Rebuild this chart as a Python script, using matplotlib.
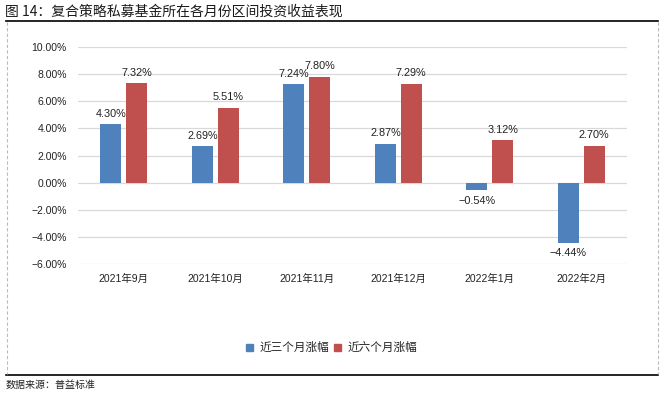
import numpy as np
import matplotlib
matplotlib.use("Agg")
import matplotlib.pyplot as plt
from matplotlib.lines import Line2D
from matplotlib.patches import Rectangle

plt.rcParams['font.family'] = ['Liberation Sans', 'Noto Sans CJK SC', 'DejaVu Sans']

# data
months = ["2021年9月", "2021年10月", "2021年11月", "2021年12月", "2022年1月", "2022年2月"]
ret_3m = [4.30, 2.69, 7.24, 2.87, -0.54, -4.44]
ret_6m = [7.32, 5.51, 7.80, 7.29, 3.12, 2.70]
series_names = ["近三个月涨幅", "近六个月涨幅"]
yticks = [-6, -4, -2, 0, 2, 4, 6, 8, 10]

title = "图 14：复合策略私募基金所在各月份区间投资收益表现"
source = "数据来源：普益标准"

blue = "#4F81BD"
red = "#C0504D"

W, H = 666, 393
fig = plt.figure(figsize=(W / 100, H / 100), dpi=100)

def px(x, y):
    return x / W, 1 - y / H

# axes placed in pixel coords
l, t, r, b = 78, 47, 627, 264
ax = fig.add_axes([l / W, 1 - b / H, (r - l) / W, (b - t) / H])

x = np.arange(len(months))
bw = 0.23
gap = 0.05
off = (bw + gap) / 2
bars1 = ax.bar(x - off, ret_3m, width=bw, color=blue, zorder=3)
bars2 = ax.bar(x + off, ret_6m, width=bw, color=red, zorder=3)

for bars, vals in [(bars1, ret_3m), (bars2, ret_6m)]:
    for rect, v in zip(bars, vals):
        cx = rect.get_x() + rect.get_width() / 2
        if v >= 0:
            ax.annotate(f"{v:.2f}%", (cx, v), xytext=(0, 4), textcoords="offset points",
                        ha="center", va="bottom", fontsize=7.8, color="#222222")
        else:
            ax.annotate(f"{v:.2f}%".replace("-", "\u2212"), (cx, v), xytext=(0, -4),
                        textcoords="offset points", ha="center", va="top",
                        fontsize=7.8, color="#222222")

ax.set_xlim(-0.5, len(months) - 0.5)
ax.set_ylim(-6, 10)
ax.set_yticks(yticks)
ax.set_yticklabels([f"{v:.2f}%".replace("-", "\u2212") for v in yticks])
ax.set_xticks(x)
ax.set_xticklabels(months)
ax.tick_params(axis="both", length=0, labelsize=7.5, colors="#222222")
ax.tick_params(axis="y", pad=8)
ax.tick_params(axis="x", pad=7)
ax.grid(axis="y", color="#D9D9D9", linewidth=0.9, zorder=0)
for s in ax.spines.values():
    s.set_visible(False)

# legend drawn by hand to keep spacing
lx, ly = 246, 347
sq = 7
for i, (name, c) in enumerate(zip(series_names, [blue, red])):
    x0 = lx + i * 88
    fig.patches.append(Rectangle(px(x0, ly + sq / 2), sq / W, sq / H, color=c,
                                 transform=fig.transFigure, figure=fig))
    fig.text(*px(x0 + 13, ly), name, fontsize=8.4, va="center", ha="left",
             family=['Noto Sans CJK SC', 'DejaVu Sans'], color="#222222")

# title, frame lines, source
fig.text(*px(5, 12), title, fontsize=10, va="center", ha="left",
         family=['Noto Sans CJK SC', 'DejaVu Sans'], color="#1a1a1a")
fig.add_artist(Line2D([6 / W, 658 / W], [1 - 21 / H] * 2, color="black", lw=1.2))
fig.add_artist(Line2D([6 / W, 658 / W], [1 - 375 / H] * 2, color="black", lw=1.2))
for xx in [7, 658]:
    fig.add_artist(Line2D([xx / W] * 2, [1 - 22 / H, 1 - 374 / H], color="#BBBBBB",
                          lw=0.8, ls=(0, (3, 2))))
fig.text(*px(6, 385), source, fontsize=7.2, va="center", ha="left",
         family=['Noto Sans CJK SC', 'DejaVu Sans'], color="#222222")

fig.savefig("out.png", dpi=100)
